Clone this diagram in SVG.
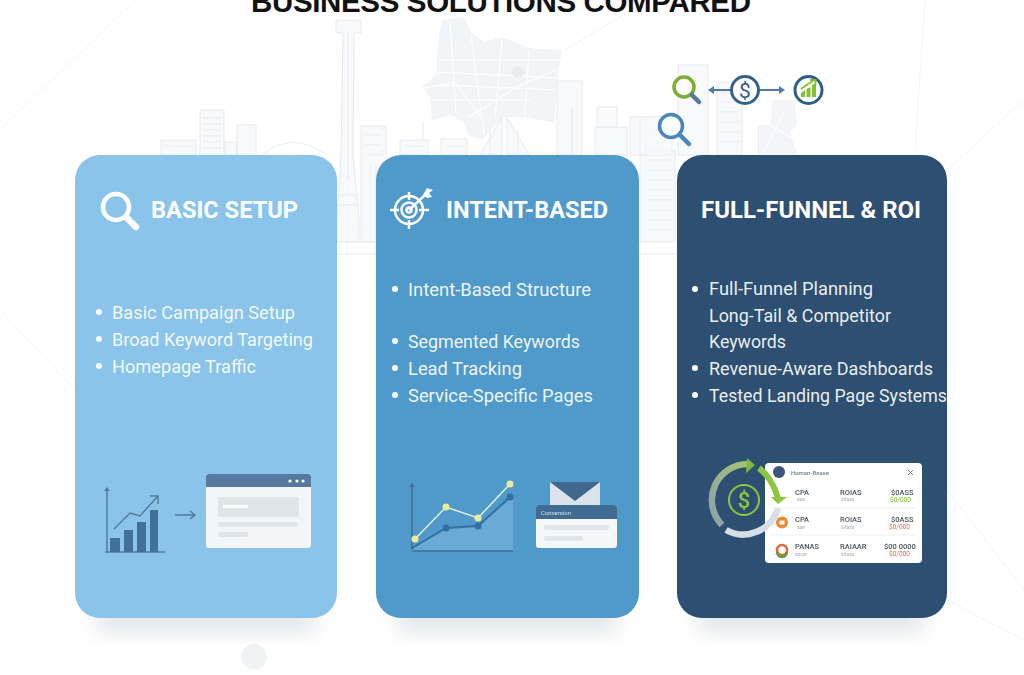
<svg xmlns="http://www.w3.org/2000/svg" width="1024" height="675" viewBox="0 0 1024 675">
<style>
.t{font-family:"Roboto","Liberation Sans",sans-serif;fill:#fff}
.h{font-size:24px;font-weight:700}
.b{font-size:18.2px;fill-opacity:.92}
.bld{stroke:#e6eaee;stroke-width:1;fill:#f8f9fb}
.ln{stroke:#e9edf0;stroke-width:1;fill:none}
.web{stroke:#f3f5f7;stroke-width:1;fill:none}
.road{stroke:#fff;stroke-width:1.100;fill:none}
.m{font-family:"Roboto","Liberation Sans",sans-serif;font-size:7.500px;font-weight:500;fill:#4a5560}
.s{font-family:"Roboto","Liberation Sans",sans-serif;font-size:5px;fill:#a4adb5}
.g{font-family:"Roboto","Liberation Sans",sans-serif;font-size:6.500px;fill:#7cc02f}
.r{font-family:"Roboto","Liberation Sans",sans-serif;font-size:6.500px;fill:#f0693a}
</style>
<defs>
<filter id="sh" x="-20%" y="-50%" width="140%" height="200%"><feGaussianBlur stdDeviation="10"/></filter>
<filter id="bl"><feGaussianBlur stdDeviation=".45"/></filter>
<filter id="tb" x="-10%" y="-10%" width="120%" height="120%"><feGaussianBlur stdDeviation=".3"/></filter>
<linearGradient id="ring" x1="0" y1="1" x2="1" y2="0"><stop offset="0" stop-color="#8fa0ae"/><stop offset="1" stop-color="#a2c471"/></linearGradient>
</defs>
<rect width="1024" height="675" fill="#fff"/>
<g id="background">
<path class="web" d="M0 130L135 0M0 310L75 390M1024 100L947 170M925 0L915 150M947 490L1024 590M947 600L1024 640M565 50L640 5"/>
<circle cx="254" cy="657" r="13" fill="#f0f3f4"/>
<path d="M337 254H376M639 254H677" stroke="#e6ebef" stroke-width="1"/>
<g id="skyline" filter="url(#bl)">
<path class="bld" d="M161 155V140H196V155ZM200 155V110H224V155ZM225 155V142H237V155ZM237 155V125H256V155Z"/>
<path class="ln" d="M203 118H221M203 124H221M203 130H221M203 136H221M203 142H221M203 148H221M164 146H193"/>
<path class="ln" d="M261 155Q293 130 326 155M337 242H384M337 225H372"/>
<path class="bld" d="M336 20H361V33H354L353 155L359 218V242H337V218L341 155L343 33H336Z"/>
<path class="ln" d="M348 33V180M338 195H358M338 205H358"/>
<path class="bld" d="M361 242V126H386V242ZM400 155V140H428V155ZM441 155V139H467V155ZM423 140V122"/>
<path class="ln" d="M365 135H382M365 145H382M365 155H382M370 165V240M376 165V240M405 146H424M446 146H463"/>
</g>
<g id="map" filter="url(#bl)">
<path d="M443 20L464 17L471 32L484 42L502 37L529 48L562 50L557 82L554 123L525 117L502 117L482 140L468 135L464 123L450 115L432 120L430 97L422 87L436 75L439 33Z" fill="#f2f5f7"/>
<path class="road" d="M438 60H559M436 72L558 78M440 85L557 90M450 20L456 113M471 35L484 135M502 40L495 118M529 50L525 115M423 88L455 82L483 120M468 118L520 85L556 70M430 100H530"/>
<circle cx="518" cy="72" r="6" fill="#e9edf0"/>
</g>
<g id="skyline-right" filter="url(#bl)">
<path class="bld" d="M480 155L502 117V155ZM507 155V117L529 155ZM557 155V81H582V155ZM572 107V155M595 155V127H627V155ZM597 127V107H617V127ZM630 155V117H662V155Z"/>
<path class="bld" d="M640 242V155H646V150H675V242Z"/>
<path class="ln" d="M648 160H672M648 170H672M648 180H672M648 190H672M648 200H672M648 210H672M648 220H672M648 230H672M490 155V130M518 155V130"/>
<path class="bld" d="M678 155V65H708V155ZM717 155V82H742V155Z"/>
<path class="ln" d="M720 92H740M720 102H740M720 112H740M720 122H740M720 132H740M720 142H740M645 155V134M652 135H668"/>
<path class="bld" d="M640 155V117H672V155Z" opacity=".7"/>
<path d="M757 155V125L770 125L772 100H795L797 125L790 132L797 155Z" fill="#f3f5f8"/>
<path class="road" d="M765 150L785 110M770 125L795 140"/>
</g>
</g>
<text id="title" x="501" y="12" text-anchor="middle" font-family="Liberation Sans,sans-serif" font-weight="700" font-size="29.500" fill="#111" textLength="500">BUSINESS SOLUTIONS COMPARED</text>
<g id="shadows" filter="url(#sh)" fill="#9aa5ad" opacity=".3">
<rect x="95" y="608" width="222" height="24" rx="11"/><rect x="396" y="608" width="223" height="24" rx="11"/><rect x="697" y="608" width="229" height="24" rx="11"/>
</g>
<g id="icons-top">
<path d="M712 90H783" stroke="#4d7ba3" stroke-width="2"/>
<path d="M708 90L714 86V94ZM785 90L779 86V94Z" fill="#4d7ba3"/>
<circle cx="684" cy="87" r="10" fill="#fff" fill-opacity=".7" stroke="#7cae35" stroke-width="3.500"/>
<path d="M692 95L699 102" stroke="#56799a" stroke-width="4.500" stroke-linecap="round"/>
<circle cx="745" cy="90" r="13.500" fill="#fff" stroke="#33608c" stroke-width="3"/>
<text x="745" y="97.500" text-anchor="middle" font-family="Roboto,sans-serif" font-size="21" fill="#33608c">$</text>
<circle cx="808.500" cy="90" r="13.500" fill="#fff" stroke="#2b5f86" stroke-width="3"/>
<path d="M801 93L805 90V97H801ZM806.500 89L810.500 87V97H806.500ZM812 85L816 83V97H812Z" fill="#82c02f"/>
<path d="M801 89L808 84L813 81M810 80H815.500V85" stroke="#82c02f" stroke-width="1.800" fill="none"/>
<circle cx="671" cy="126" r="11.500" fill="#fff" fill-opacity=".6" stroke="#4a86bb" stroke-width="3.500"/>
<path d="M680 135L689 144" stroke="#4a86bb" stroke-width="4.500" stroke-linecap="round"/>
</g>
<g id="card-basic">
<rect x="75" y="155" width="262" height="463" rx="25" fill="#8ac4ea"/>
<circle cx="116" cy="207" r="13" fill="none" stroke="#fff" stroke-width="4.500"/>
<path d="M127 218L136 227" stroke="#fff" stroke-width="6.500" stroke-linecap="round"/>
<text class="t h" x="151" y="218" textLength="147" lengthAdjust="spacingAndGlyphs">BASIC SETUP</text>
<circle cx="99" cy="312" r="3" fill="#fff"/><circle cx="99" cy="339" r="3" fill="#fff"/><circle cx="99" cy="366" r="3" fill="#fff"/>
<text class="t b" x="112" y="319" textLength="183" lengthAdjust="spacingAndGlyphs">Basic Campaign Setup</text>
<text class="t b" x="112" y="346" textLength="201" lengthAdjust="spacingAndGlyphs">Broad Keyword Targeting</text>
<text class="t b" x="112" y="373" textLength="144" lengthAdjust="spacingAndGlyphs">Homepage Traffic</text>
<g filter="url(#bl)">
<path d="M107 552V490M165 552H105" stroke="#55799b" stroke-width="1.500"/><path d="M107 487L104 491H110Z" fill="#55799b"/>
<path d="M110 538H120V552H110ZM124 530H133V552H124ZM137 522H146V552H137ZM150 510H158V552H150Z" fill="#41709b"/>
<path d="M114 529L130 513L140 516L157 497M150 496H158V504" stroke="#55799b" stroke-width="1.500" fill="none"/>
<path d="M175 515H194M190 511L195 515L190 519" stroke="#55799b" stroke-width="1.500" fill="none"/>
<rect x="206" y="474" width="105" height="74" rx="3" fill="#f3f6f9"/>
<path d="M206 487V477a3 3 0 0 1 3-3H308a3 3 0 0 1 3 3V487Z" fill="#557a9e"/>
<circle cx="290" cy="481" r="1.600" fill="#fff"/><circle cx="297" cy="481" r="1.600" fill="#fff"/><circle cx="303" cy="481" r="1.600" fill="#fff"/>
<rect x="218" y="497" width="81" height="20" rx="2" fill="#e0e5e9"/><rect x="223" y="505" width="25" height="3" fill="#fff"/>
<rect x="218" y="522" width="80" height="5" rx="2" fill="#e0e5e9"/><rect x="218" y="532" width="30" height="5" rx="2" fill="#e0e5e9"/>
</g>
</g>
<g id="card-intent">
<rect x="376" y="155" width="263" height="463" rx="25" fill="#4f9acb"/>
<g stroke="#fff" fill="none" stroke-width="2.500">
<circle cx="409" cy="210" r="14"/><circle cx="409" cy="210" r="7.500"/><circle cx="409" cy="210" r="2.500"/>
<path d="M390 210H399M419 210H429M409 192V200M409 220V229M409 210L425 195"/>
</g>
<path d="M423 195L427 188L433 190L429 193L432 197L427 198Z" fill="#fff"/>
<text class="t h" x="446" y="218" textLength="162" lengthAdjust="spacingAndGlyphs">INTENT-BASED</text>
<circle cx="395" cy="289" r="3" fill="#fff"/><circle cx="395" cy="341" r="3" fill="#fff"/><circle cx="395" cy="368" r="3" fill="#fff"/><circle cx="395" cy="395" r="3" fill="#fff"/>
<text class="t b" x="408" y="296" textLength="183" lengthAdjust="spacingAndGlyphs">Intent-Based Structure</text>
<text class="t b" x="408" y="348" textLength="172" lengthAdjust="spacingAndGlyphs">Segmented Keywords</text>
<text class="t b" x="408" y="375" textLength="114" lengthAdjust="spacingAndGlyphs">Lead Tracking</text>
<text class="t b" x="408" y="402" textLength="185" lengthAdjust="spacingAndGlyphs">Service-Specific Pages</text>
<g filter="url(#bl)">
<path d="M412 550L446 528L478 526L513 497V551H412Z" fill="#6aaad6"/>
<path d="M412 550V486M412 551H513" stroke="#3e6f98" stroke-width="1.500"/><path d="M412 483L409 487H415Z" fill="#3e6f98"/>
<path d="M412 548L446 528L478 526L510 497" stroke="#33709f" stroke-width="2" fill="none"/>
<circle cx="446" cy="528" r="3.500" fill="#33709f"/><circle cx="478" cy="526" r="3.500" fill="#33709f"/><circle cx="510" cy="497" r="3.500" fill="#33709f"/>
<path d="M415 539L446 507L478 518L510 484" stroke="#e4f0e0" stroke-width="1.500" fill="none"/>
<circle cx="415" cy="539" r="3.500" fill="#eee99a"/><circle cx="446" cy="507" r="3.500" fill="#eee99a"/><circle cx="478" cy="518" r="3.500" fill="#eee99a"/><circle cx="510" cy="484" r="3.500" fill="#eee99a"/>
<rect x="550" y="482" width="50" height="26" fill="#dbe4ec"/><path d="M550 482H600L575 501Z" fill="#40688e"/>
<rect x="536" y="505" width="81" height="43" rx="3" fill="#f5f8fb"/>
<path d="M536 519V508a3 3 0 0 1 3-3H614a3 3 0 0 1 3 3V519Z" fill="#3f6c94"/>
<text x="541" y="514.500" font-family="Roboto,sans-serif" font-size="6" fill="#d8e3ec">Conversion</text>
<rect x="544" y="525" width="65" height="5" rx="2" fill="#e0e6ea"/><rect x="544" y="536" width="39" height="5" rx="2" fill="#e0e6ea"/>
</g>
</g>
<g id="card-roi">
<rect x="677" y="155" width="270" height="463" rx="25" fill="#2c4f72"/>
<text class="t h" x="701" y="218" textLength="220" lengthAdjust="spacingAndGlyphs">FULL-FUNNEL &amp; ROI</text>
<circle cx="695" cy="289" r="3" fill="#fff"/><circle cx="695" cy="368" r="3" fill="#fff"/><circle cx="695" cy="395" r="3" fill="#fff"/>
<text class="t b" x="709" y="295" textLength="164" lengthAdjust="spacingAndGlyphs">Full-Funnel Planning</text>
<text class="t b" x="709" y="322" textLength="182" lengthAdjust="spacingAndGlyphs">Long-Tail &amp; Competitor</text>
<text class="t b" x="709" y="348" textLength="77" lengthAdjust="spacingAndGlyphs">Keywords</text>
<text class="t b" x="709" y="375" textLength="224" lengthAdjust="spacingAndGlyphs">Revenue-Aware Dashboards</text>
<text class="t b" x="709" y="402" textLength="238" lengthAdjust="spacingAndGlyphs">Tested Landing Page Systems</text>
<rect x="765" y="463" width="157" height="100" rx="4" fill="#fff"/>
<g filter="url(#tb)">
<path d="M722 525A36 36 0 0 1 749 464" stroke="url(#ring)" stroke-width="6.500" fill="none"/>
<path d="M726 530A36 36 0 0 0 778 508" stroke="#d7dee5" stroke-width="6.500" fill="none"/>
<path d="M755 465L747 458L746 473Z" fill="#82b83e"/>
<path d="M759 468Q772 478 778 498" stroke="#8cc63f" stroke-width="6" fill="none"/>
<path d="M771 497H787L778 504Z" fill="#8cc63f"/>
<circle cx="744" cy="500" r="15" fill="none" stroke="#8cc63f" stroke-width="2"/>
<text x="744" y="508" text-anchor="middle" font-family="Roboto,sans-serif" font-size="22" font-weight="500" fill="#8cc63f">$</text>
<circle cx="779" cy="472" r="6" fill="#3d5578"/>
<text class="m" x="791" y="475" style="font-size:6px;fill:#74828c">Human-Bease</text>
<path d="M908 470L913 475M913 470L908 475" stroke="#7b8894"/>
<g id="rows">
<text class="m" x="795" y="495">CPA</text><text class="s" x="797" y="501">ase</text><text class="m" x="840" y="495">ROIAS</text><text class="s" x="841" y="501">sitass</text><text class="m" x="891" y="495">$0ASS</text><text class="g" x="890" y="502">$0/000</text>
<path d="M770 508H916M770 535H916" stroke="#eef1f3"/>
<circle cx="782" cy="522.500" r="6" fill="#f08a32"/><rect x="779.500" y="520.500" width="5" height="4" fill="#fff"/>
<text class="m" x="795" y="522">CPA</text><text class="s" x="797" y="529">ase</text><text class="m" x="840" y="522">ROIAS</text><text class="s" x="841" y="529">sitass</text><text class="m" x="891" y="522">$0ASS</text><text class="r" x="889" y="529">$0/000</text>
<circle cx="782" cy="550" r="5" fill="none" stroke="#e0683a" stroke-width="2.500"/><path d="M777 552A5 5 0 0 0 787 552" stroke="#5aa040" stroke-width="2.500" fill="none"/>
<text class="m" x="795" y="549">PANAS</text><text class="s" x="795" y="556">ascer</text><text class="m" x="840" y="549">RAIAAR</text><text class="s" x="841" y="556">sitass</text><text class="m" x="884" y="549">$00 0000</text><text class="r" x="889" y="556">$0/000</text>
</g>
</g>
</g>
</svg>
